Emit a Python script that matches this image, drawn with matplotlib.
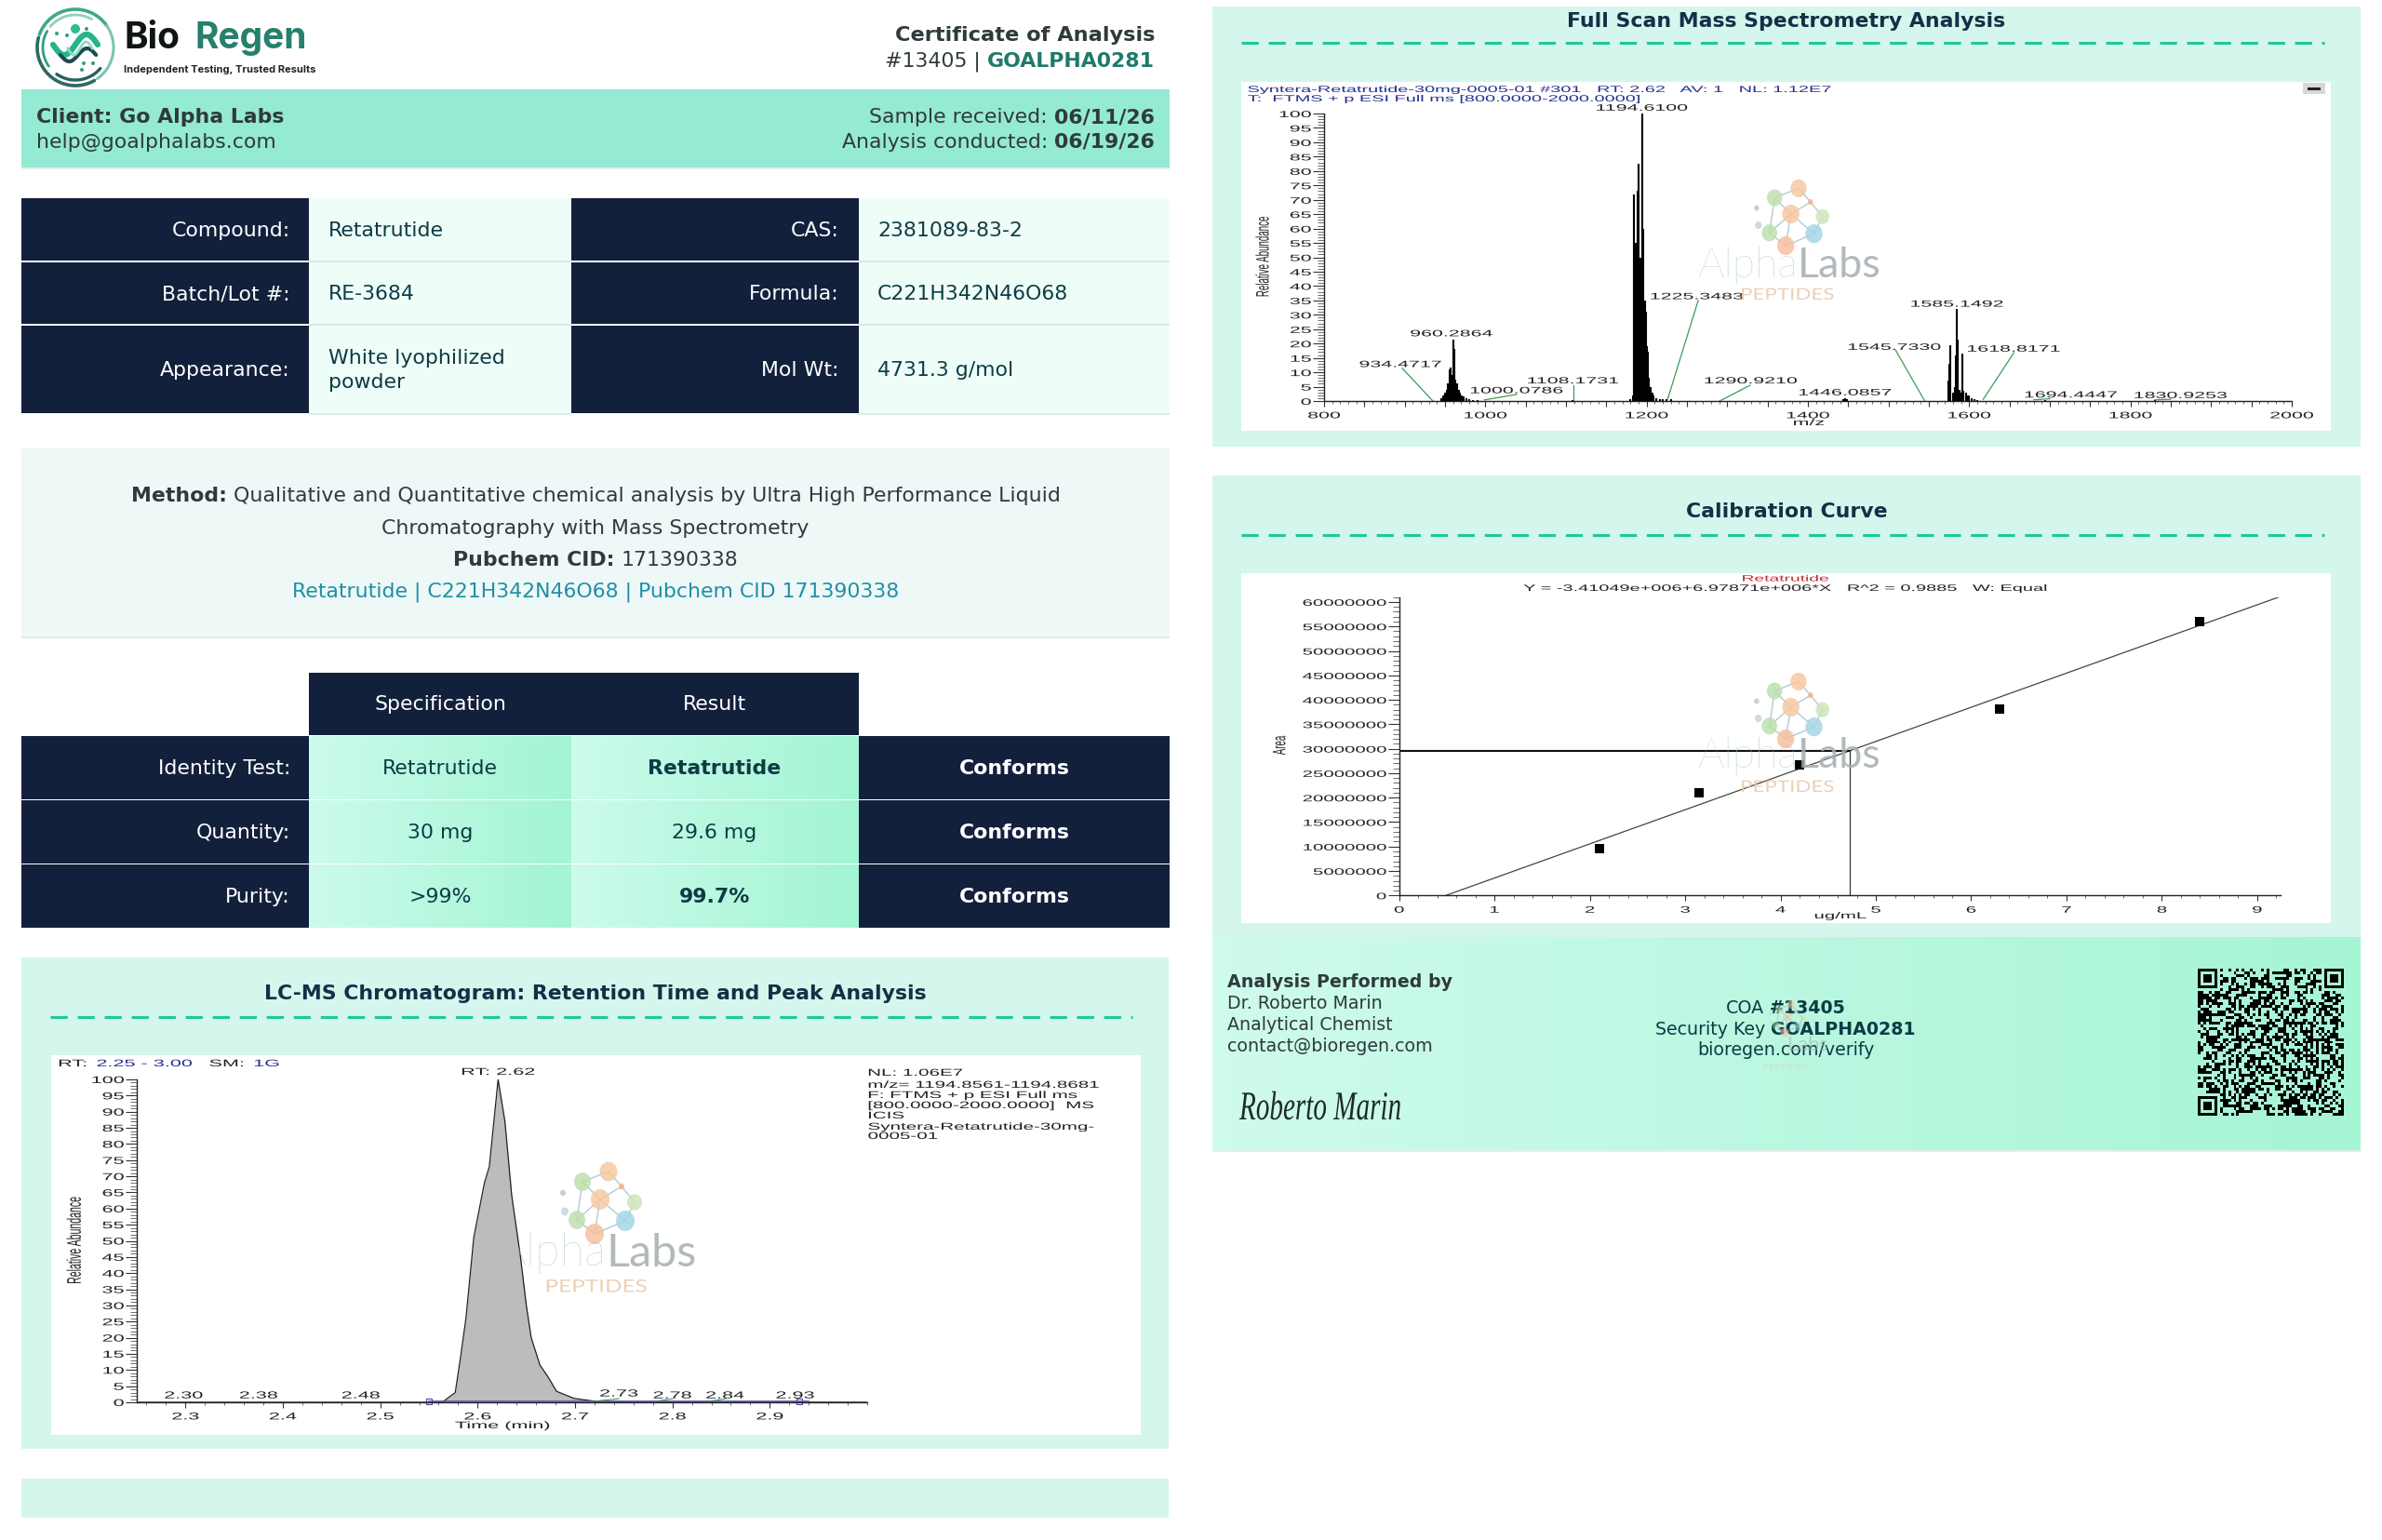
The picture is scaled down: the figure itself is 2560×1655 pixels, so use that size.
import hashlib

import numpy as np
import matplotlib
matplotlib.use('Agg')
import matplotlib.pyplot as plt
import matplotlib.patheffects as pe
from matplotlib.colors import to_rgb
from matplotlib.patches import Ellipse, Rectangle
from matplotlib.ticker import MultipleLocator, NullFormatter
from matplotlib.transforms import Affine2D

W, H = 2560, 1656
plt.rcParams['font.family'] = ['DejaVu Sans']

# chromatogram
lc_t = [2.25, 2.55, 2.564, 2.577, 2.582, 2.588, 2.596, 2.607, 2.612, 2.621, 2.628, 2.635, 2.644,
        2.650, 2.655, 2.664, 2.672, 2.681, 2.699, 2.721, 2.76, 3.0]
lc_y = [0, 0, 0.1, 3, 13, 26, 51, 68, 73, 100, 87, 64, 45, 30, 20, 11.5, 8, 3.4, 1.2, 0.3, 0.1, 0]
lc_labels = ['2.30', '2.38', '2.48', '2.73', '2.78', '2.84', '2.93']
lc_label_t = [2.298, 2.375, 2.48, 2.745, 2.80, 2.854, 2.926]
lc_label_y = [2.1, 2.1, 2.1, 2.7, 2.1, 2.1, 2.1]
lc_squares = [2.55, 2.93]
lc_info = ['NL: 1.06E7', 'm/z= 1194.8561-1194.8681', 'F: FTMS + p ESI Full ms',
           '[800.0000-2000.0000]  MS', 'ICIS', 'Syntera-Retatrutide-30mg-', '0005-01']

# mass spectrum sticks
ms_mz = [945, 948, 950, 952, 954, 956, 957, 958, 960.3, 961, 962, 963, 965, 967, 969, 971, 973, 976, 980, 985, 990,
         1108, 1180, 1183, 1184.6, 1186, 1189, 1190, 1192, 1194.6, 1196, 1198, 1199.5, 1200.5, 1201.5, 1203, 1205,
         1207, 1209, 1212, 1216, 1220, 1225, 1230, 1444, 1446, 1448,
         1574, 1575.5, 1577, 1580, 1582, 1583.5, 1585.15, 1586, 1588, 1590, 1591.5, 1593, 1596, 1598, 1600, 1603,
         1606, 1610, 1694, 1830]
ms_int = [1, 2, 3, 4, 6, 11, 11.5, 9, 21.5, 18, 12, 7.5, 6, 4, 3, 2, 1.5, 1, 0.7, 0.4, 0.3,
          0.3, 0.5, 2, 72, 55, 73, 82.5, 50, 100, 60, 35, 31, 19, 17, 8, 5,
          3, 2, 1, 0.8, 0.6, 0.6, 0.5, 0.6, 1.1, 0.5,
          7, 13, 19.5, 3, 5, 16, 32, 21.5, 4, 3, 16.5, 3.5, 3, 2, 2, 1,
          0.6, 0.4, 0.2, 0.2]
ms_labels = ['1194.6100', '960.2864', '934.4717', '1000.0786', '1108.1731', '1225.3483', '1290.9210',
             '1446.0857', '1545.7330', '1585.1492', '1618.8171', '1694.4447', '1830.9253']
ms_label_mz = [1194, 958, 894.6, 1038.6, 1108.4, 1262, 1329, 1446, 1507, 1584.7, 1655, 1726, 1862]
ms_label_y = [102, 23.5, 12.8, 3.7, 7.1, 36.4, 7.1, 3, 18.8, 33.8, 18.2, 2.2, 2]
ms_lead_from = [(897, 11.4), (1038.6, 2.3), (1109, 5.5), (1264, 35), (1328.4, 5.5), (1508.7, 17.7), (1655.4, 16.8),
                (1700, 0.8), (1850, 0.6)]
ms_lead_to = [(935, 0), (998.8, 0.4), (1109, 0), (1226, 0.6), (1290.5, 0), (1545, 0), (1617.4, 0.6),
              (1680, 0.4), (1830, 0.4)]

# calibration
cal_x = [2.1, 3.15, 4.2, 6.3, 8.4]
cal_y = [9.6e6, 21e6, 26.7e6, 38.2e6, 56e6]
fit_x = [0.49, 9.24]
fit_y = [0, 61.1e6]
sample_x = 4.73
sample_y = 29.6e6

# tables
info_rows = [('Compound:', 'Retatrutide', 'CAS:', '2381089-83-2'),
             ('Batch/Lot #:', 'RE-3684', 'Formula:', 'C221H342N46O68'),
             ('Appearance:', 'White lyophilized\npowder', 'Mol Wt:', '4731.3 g/mol')]
test_names = ['Identity Test:', 'Quantity:', 'Purity:']
test_spec = ['Retatrutide', '30 mg', '>99%']
test_result = ['Retatrutide', '29.6 mg', '99.7%']
test_bold = [True, False, True]

NAVY = '#13203c'
INK = '#2f3a3c'
DEEP = '#0d3b45'
PANEL = '#d5f6ec'
TEAL = '#20c997'
BLUE = '#27308f'


class Stretch(pe.AbstractPathEffect):
    # the chart screenshots are squashed, so glyphs get scaled on the way out
    def __init__(self, sx=1.0, sy=1.0, anchor='center'):
        super().__init__()
        self.sx, self.sy, self.anchor = sx, sy, anchor

    def draw_path(self, renderer, gc, tpath, affine, rgbFace=None):
        ext = tpath.get_extents()
        cx = {'left': ext.x0, 'center': (ext.x0 + ext.x1) / 2, 'right': ext.x1}[self.anchor]
        cy = (ext.y0 + ext.y1) / 2
        st = Affine2D().translate(-cx, -cy).scale(self.sx, self.sy).translate(cx, cy)
        renderer.draw_path(gc, tpath, st + affine, rgbFace)


fig = plt.figure(figsize=(W / 100, H / 100), dpi=100)
base = fig.add_axes([0, 0, 1, 1], zorder=0)
top = fig.add_axes([0, 0, 1, 1], zorder=5)
for a in (base, top):
    a.set_xlim(0, W)
    a.set_ylim(H, 0)
    a.axis('off')
    a.patch.set_alpha(0)
renderer = fig.canvas.get_renderer()


def box(x0, y0, x1, y1, color, z=1, ax=base):
    ax.add_patch(Rectangle((x0, y0), x1 - x0, y1 - y0, fc=color, ec='none', zorder=z))


def gradient(x0, y0, x1, y1, c0='#cffbec', c1='#a6f5d5', z=1):
    c0, c1 = np.array(to_rgb(c0)), np.array(to_rgb(c1))
    ramp = np.linspace(0, 1, 64)[None, :, None]
    base.imshow(c0 + (c1 - c0) * ramp, extent=[x0, x1, y1, y0], aspect='auto', zorder=z)
    base.set_xlim(0, W)
    base.set_ylim(H, 0)


def txt(x, y, s, size=15.8, weight='normal', color=INK, ha='left', ax=base, **kw):
    return ax.text(x, y, s, fontsize=size, fontweight=weight, color=color, ha=ha, va='center',
                   zorder=kw.pop('zorder', 6), **kw)


def runs(x, y, parts, ha='left', size=15.8):
    # parts = (string, weight, colour), drawn one after the other on a line
    gap = size * 100 / 72 * 0.318
    items = [txt(0, y, s, size, w, c) for s, w, c in parts]
    widths = [i.get_window_extent(renderer).width for i in items]
    total = sum(widths) + gap * (len(items) - 1)
    pos = {'left': x, 'right': x - total, 'center': x - total / 2}[ha]
    for item, wd in zip(items, widths):
        item.set_x(pos)
        pos += wd + gap


def chart_axes(x0, x1, y0, y1):
    ax = fig.add_axes([x0 / W, 1 - y1 / H, (x1 - x0) / W, (y1 - y0) / H], zorder=3)
    ax.patch.set_alpha(0)
    ax.spines['top'].set_visible(False)
    ax.spines['right'].set_visible(False)
    for s in ('left', 'bottom'):
        ax.spines[s].set_linewidth(1.0)
        ax.spines[s].set_color('#222222')
    ax.tick_params(which='major', length=9, width=0.8, color='#333333')
    ax.tick_params(which='minor', length=5, width=0.6, color='#555555')
    ax.tick_params(axis='x', which='major', length=4.5, pad=3)
    ax.tick_params(axis='x', which='minor', length=2.5)
    ax.tick_params(axis='y', pad=1)
    return ax


def style_ticks(ax, size, sx):
    for lab in ax.get_xticklabels():
        lab.set(fontfamily='Liberation Sans', fontsize=size, color='#222222')
        lab.set_path_effects([Stretch(sx, 1, 'center')])
    for lab in ax.get_yticklabels():
        lab.set(fontfamily='Liberation Sans', fontsize=size, color='#222222')
        lab.set_path_effects([Stretch(sx, 1, 'right')])


def ctext(ax, x, y, s, size, sx, ha='center', color='#222222', sy=1.0, rotation=0):
    ax.text(x, y, s, fontsize=size, fontfamily='Liberation Sans', color=color, ha=ha, va='center',
            rotation=rotation, clip_on=False, zorder=7, path_effects=[Stretch(sx, sy, ha)])


def watermark(cx, cy, split, text_y, pep_y, k=1.0, alpha=0.85):
    ball_dx = np.array([13, -15, 27, 4, 41, 31, -21, -2, -34, -36])
    ball_dy = np.array([-30, -19, -14, 0, 3, 23, 22, 37, 13, -7])
    ball_r = np.array([9.5, 9, 3, 10, 8, 10, 9, 10, 4, 3])
    ball_c = ['#f7c9a3', '#bfe0ae', '#f2b48c', '#f7c9a3', '#cfe6b9', '#a5d6e6', '#bfe0ae', '#f7c0a0', '#c5d5dd',
              '#b9cbd3']
    links = [(0, 1), (0, 2), (1, 3), (2, 3), (2, 4), (3, 5), (4, 5), (3, 7), (5, 7), (6, 7), (1, 6), (3, 6)]
    for a, b in links:
        top.plot([cx + k * ball_dx[a], cx + k * ball_dx[b]], [cy + k * ball_dy[a], cy + k * ball_dy[b]],
                 color='#8fb0bd', lw=1.0, alpha=alpha * 0.8, zorder=6)
    for dx, dy, r, c in zip(ball_dx, ball_dy, ball_r, ball_c):
        top.add_patch(Ellipse((cx + k * dx, cy + k * dy), 2 * k * r, 2.2 * k * r, fc=c, ec='none', alpha=alpha,
                              zorder=6))
    size = 35 * k
    top.text(split, text_y, 'Alpha', fontsize=size, fontfamily='Lato', color='#9fc0cd', ha='right', va='center',
             alpha=alpha, zorder=6, fontweight='light')
    top.text(split, text_y, 'Labs', fontsize=size, fontfamily='Lato', color='#a5adb1', ha='left', va='center',
             alpha=alpha, zorder=6)
    top.text(cx, pep_y, 'PEPTIDES', fontsize=13.5 * k, fontfamily='Lato', color='#e8c9aa', ha='center', va='center',
             alpha=alpha, zorder=6, path_effects=[Stretch(1.3, 1, 'center')])


# logo
cx, cy = 81, 52
ang = np.linspace(0, 2 * np.pi, 200)
for a0, a1, r, col, lw in [(35, 160, 41, '#3fa88d', 2.6), (165, 300, 41, '#2d6a62', 2.6), (305, 395, 41, '#7fc4b0', 2.2),
                           (60, 140, 35, '#8fd0bd', 2.0), (150, 215, 35, '#2f9e86', 2.0),
                           (235, 320, 35, '#2b5f5f', 2.4)]:
    th = np.radians(np.linspace(a0, a1, 50))
    base.plot(cx + r * np.cos(th), cy - r * np.sin(th), color=col, lw=lw, solid_capstyle='round')
sx_ = np.linspace(-24, 24, 80)
base.plot(cx + sx_, cy - 3 - 11 * np.sin(sx_ / 24 * np.pi), color='#27b48c', lw=4.5, solid_capstyle='round')
base.plot(cx + sx_ * 0.8 + 3, cy + 8 - 7 * np.sin(sx_ / 24 * np.pi), color='#1f4a50', lw=3.0, solid_capstyle='round')
base.plot(cx + sx_ * 0.55 + 5, cy + 1 - 7 * np.sin(sx_ / 24 * np.pi), color='#8fdcc5', lw=2.0)
base.add_patch(Ellipse((81, 32), 10, 10, fc='#2dbd92', ec='none', zorder=3))
for dx, dy in [(-20, -15), (-9, -13), (12, -20), (9, 17), (19, 17), (7, 24)]:
    base.add_patch(Ellipse((cx + dx, cy + dy), 4, 4, fc='#2f9e86', ec='none', zorder=3))
txt(133, 41, 'Bio', 28, 'bold', '#101414', fontfamily='Inter')
txt(209, 41, 'Regen', 28, 'bold', '#25806c', fontfamily='Inter')
txt(133, 75, 'Independent Testing, Trusted Results', 8, 'bold', '#222222', fontfamily='Inter')

# header
txt(1241, 38, 'Certificate of Analysis', 16.2, 'bold', ha='right')
runs(1241, 66, [('#13405 |', 'normal', INK), ('GOALPHA0281', 'bold', '#1f7a6b')], ha='right')
box(23, 97, 1257, 181, '#94ead2')
box(23, 181, 1257, 183, '#e3efec')
txt(39, 126, 'Client: Go Alpha Labs', weight='bold')
txt(39, 153, 'help@goalphalabs.com')
runs(1241, 126, [('Sample received:', 'normal', INK), ('06/11/26', 'bold', INK)], ha='right')
runs(1241, 153, [('Analysis conducted:', 'normal', INK), ('06/19/26', 'bold', INK)], ha='right')

# info table
row_tops = [214, 283, 351]
row_bots = [281, 349, 445]
for (k1, v1, k2, v2), r0, r1 in zip(info_rows, row_tops, row_bots):
    mid = (r0 + r1) / 2
    box(332, r0, 614, r1 + 2, '#eefdf8')
    box(923, r0, 1257, r1 + 2, '#eefdf8')
    box(332, r1, 614, r1 + 2, '#dde9e6')
    box(923, r1, 1257, r1 + 2, '#dde9e6')
    box(23, r0, 332, r1, NAVY)
    box(614, r0, 923, r1, NAVY)
    txt(312, mid, k1, color='white', ha='right')
    txt(902, mid, k2, color='white', ha='right')
    txt(353, mid, v1, color=DEEP, linespacing=1.35)
    txt(943, mid, v2, color=DEEP)

# method box
box(23, 483, 1257, 687, '#edf8f7')
box(23, 685, 1257, 687, '#e0ecea')
runs(640, 533, [('Method:', 'bold', INK),
                ('Qualitative and Quantitative chemical analysis by Ultra High Performance Liquid', 'normal', INK)],
     ha='center')
txt(640, 568, 'Chromatography with Mass Spectrometry', ha='center')
runs(640, 602, [('Pubchem CID:', 'bold', INK), ('171390338', 'normal', INK)], ha='center')
txt(640, 636, 'Retatrutide | C221H342N46O68 | Pubchem CID 171390338', color='#1f8fa5', ha='center')

# results table
box(332, 724, 923, 791, NAVY)
txt(473, 757, 'Specification', color='white', ha='center')
txt(768, 757, 'Result', color='white', ha='center')
test_tops = [792, 861, 930]
test_bots = [860, 929, 998]
for i, (r0, r1) in enumerate(zip(test_tops, test_bots)):
    mid = (r0 + r1) / 2
    box(23, r0, 332, r1, NAVY)
    box(923, r0, 1257, r1, NAVY)
    gradient(332, r0, 614, r1, '#ccfbec', '#a3f5d3')
    gradient(614, r0, 923, r1, '#ccfbec', '#a3f5d3')
    txt(312, mid, test_names[i], color='white', ha='right')
    txt(473, mid, test_spec[i], color=DEEP, ha='center')
    txt(768, mid, test_result[i], color=DEEP, ha='center', weight='bold' if test_bold[i] else 'normal')
    txt(1090, mid, 'Conforms', color='white', ha='center', weight='bold')

# panels
box(23, 1030, 1256, 1558, PANEL)
box(23, 1590, 1256, 1632, PANEL)
box(1303, 8, 2537, 481, PANEL)
box(1303, 512, 2537, 1008, PANEL)
box(55, 1135, 1226, 1543, 'white', 2)
box(1334, 89, 2505, 464, 'white', 2)
box(1334, 617, 2505, 993, 'white', 2)
txt(640, 1068, 'LC-MS Chromatogram: Retention Time and Peak Analysis', 15.8, 'bold', '#123047', ha='center')
txt(1920, 23, 'Full Scan Mass Spectrometry Analysis', 15.8, 'bold', '#123047', ha='center')
txt(1920, 550, 'Calibration Curve', 15.8, 'bold', '#123047', ha='center')
for x0, x1, y in [(54, 1217, 1094), (1334, 2498, 47), (1334, 2498, 576)]:
    base.plot([x0, x1], [y, y], color=TEAL, lw=2.2, dashes=(6, 3.5))

# LC-MS chart
lc = chart_axes(147, 932, 1161, 1508)
lc.set_xlim(2.25, 3.0)
lc.set_ylim(0, 100)
lc.fill_between(lc_t, lc_y, color='#bcbcbc', lw=0)
lc.plot(lc_t, lc_y, color='#222222', lw=0.9)
lc.plot([2.55, 2.94], [0.15, 0.15], color='#5a5ab4', lw=1.2)
lc.plot(lc_squares, [0.4, 0.4], 's', mfc='none', mec='#4a4aa8', ms=4.5, mew=0.8, clip_on=False)
lc.set_xticks([2.3, 2.4, 2.5, 2.6, 2.7, 2.8, 2.9])
lc.set_xticklabels(['2.3', '2.4', '2.5', '2.6', '2.7', '2.8', '2.9'])
lc.xaxis.set_minor_locator(MultipleLocator(0.02))
lc.set_yticks(range(0, 101, 5))
lc.yaxis.set_minor_locator(MultipleLocator(1))
style_ticks(lc, 7.6, 2.05)
for s, t, y in zip(lc_labels, lc_label_t, lc_label_y):
    ctext(lc, t, y, s, 7.6, 2.05)
ctext(lc, 2.621, 102.3, 'RT: 2.62', 7.6, 2.05)
for t0, t1 in [(2.722, 2.745), (2.785, 2.80), (2.84, 2.855)]:
    lc.plot([t0, t1], [0.4, 1.1], color='#3d9b55', lw=0.8)
ctext(top, 63, 1144, 'RT:', 7.6, 2.05, 'left')
ctext(top, 104, 1144, '2.25 - 3.00', 7.6, 2.05, 'left', BLUE)
ctext(top, 225, 1144, 'SM:', 7.6, 2.05, 'left')
ctext(top, 273, 1144, '1G', 7.6, 2.05, 'left', BLUE)
for s, y in zip(lc_info, [1154, 1167, 1178, 1189, 1200, 1212, 1222]):
    ctext(top, 933, y, s, 7.6, 1.95, 'left')
ctext(top, 80, 1334, 'Relative Abundance', 7.6, 1.0, 'center', sy=2.0, rotation=90)
ctext(top, 540, 1533, 'Time (min)', 7.6, 2.05)
watermark(641, 1290, 652, 1347, 1384)

# mass spectrum
ms = chart_axes(1423, 2463, 123, 432)
ms.set_xlim(800, 2000)
ms.set_ylim(0, 100)
ms.vlines(ms_mz, 0, ms_int, color='black', lw=1.5)
ms.plot([800, 2000], [0.15, 0.15], color='black', lw=0.8)
for p0, p1 in zip(ms_lead_from, ms_lead_to):
    ms.plot([p0[0], p1[0]], [p0[1], p1[1]], color='#3d9b55', lw=0.9, clip_on=False)
ms_ticks = list(range(800, 2001, 50))
ms.set_xticks(ms_ticks)
ms.set_xticklabels([str(v) if v % 200 == 0 else '' for v in ms_ticks])
ms.xaxis.set_minor_locator(MultipleLocator(10))
ms.set_yticks(range(0, 101, 5))
ms.yaxis.set_minor_locator(MultipleLocator(1))
style_ticks(ms, 7.0, 2.2)
for s, m, y in zip(ms_labels, ms_label_mz, ms_label_y):
    ctext(ms, m, y, s, 7.0, 2.2)
ctext(top, 1341, 97, 'Syntera-Retatrutide-30mg-0005-01 #301   RT: 2.62   AV: 1   NL: 1.12E7', 7.0, 2.05, 'left', BLUE)
ctext(top, 1341, 107, 'T:  FTMS + p ESI Full ms [800.0000-2000.0000]', 7.0, 2.05, 'left', BLUE)
box(2475, 90, 2499, 102, '#d8d8d8', 6, top)
box(2480, 95, 2494, 98, '#222222', 7, top)
ctext(top, 1357, 277, 'Relative Abundance', 7.0, 1.0, 'center', sy=2.0, rotation=90)
ctext(top, 1944, 455, 'm/z', 7.0, 2.2)
watermark(1921, 231, 1932, 285, 318, 0.92)

# calibration curve
cal = chart_axes(1503.7, 2451, 642.7, 963.3)
cal.set_xlim(0, 9.245)
cal.set_ylim(0, 61e6)
cal.plot(fit_x, fit_y, color='#444444', lw=0.9)
cal.plot([0, sample_x], [sample_y, sample_y], color='#111111', lw=1.5)
cal.plot([sample_x, sample_x], [0, sample_y], color='#333333', lw=0.9)
cal.plot(cal_x, cal_y, 's', color='black', ms=6.5, mew=0, clip_on=False, zorder=4)
cal.plot(cal_x, cal_y, 's', color='black', ms=0)
cal.set_xticks(range(0, 10))
cal.xaxis.set_minor_locator(MultipleLocator(0.2))
cal.set_yticks(range(0, 60000001, 5000000))
cal.set_yticklabels([str(v) for v in range(0, 60000001, 5000000)])
cal.yaxis.set_minor_locator(MultipleLocator(1000000))
style_ticks(cal, 7.0, 2.1)
ctext(top, 1919, 623, 'Retatrutide', 6.6, 2.1, color='#c8282d')
ctext(top, 1919, 633, 'Y = -3.41049e+006+6.97871e+006*X   R^2 = 0.9885   W: Equal', 7.0, 2.05)
ctext(top, 1375, 802, 'Area', 7.0, 1.0, 'center', sy=2.0, rotation=90)
ctext(top, 1978, 985, 'ug/mL', 7.0, 2.1)
watermark(1921, 761, 1932, 813, 847, 0.92)

# footer
gradient(1303, 1008, 2537, 1237, '#cffbec', '#a6f5d5', z=1)
box(1303, 1237, 2537, 1239, '#e3efec')
txt(1319, 1056, 'Analysis Performed by', 13.7, 'bold')
txt(1319, 1079, 'Dr. Roberto Marin', 13.7)
txt(1319, 1102, 'Analytical Chemist', 13.7)
txt(1319, 1125, 'contact@bioregen.com', 13.7)
base.text(1332, 1192, 'Roberto Marin', fontsize=21, fontfamily='Liberation Serif', style='italic', color='#1c2b2b',
          va='center', fontweight='light', path_effects=[Stretch(1.0, 1.5, 'left')], zorder=6)
watermark(1919, 1094, 1921, 1123, 1148, 0.45, alpha=0.5)
runs(1919, 1084, [('COA', 'normal', DEEP), ('#13405', 'bold', DEEP)], ha='center', size=13.7)
runs(1919, 1107, [('Security Key', 'normal', DEEP), ('GOALPHA0281', 'bold', DEEP)], ha='center', size=13.7)
txt(1919, 1129, 'bioregen.com/verify', 13.7, color=DEEP, ha='center', zorder=7)

# qr texture: hash of the footer text, not a readable code
n = 53
bits = ''.join(bin(b)[2:].zfill(8) for i in range(n * n // 256 + 1)
               for b in hashlib.sha256(f'bioregen.com/verify/{i}'.encode()).digest())
qr = np.array([int(c) for c in bits[:n * n]], dtype=float).reshape(n, n)
for fx, fy in [(0, 0), (n - 7, 0), (0, n - 7)]:
    qr[max(fy - 1, 0):fy + 8, max(fx - 1, 0):fx + 8] = 0
    qr[fy:fy + 7, fx:fx + 7] = 1
    qr[fy + 1:fy + 6, fx + 1:fx + 6] = 0
    qr[fy + 2:fy + 5, fx + 2:fx + 5] = 1
rgba = np.zeros((n, n, 4))
rgba[..., 3] = qr
base.imshow(rgba, extent=[2362, 2519, 1200, 1042], aspect='auto', interpolation='nearest', zorder=3)
base.set_xlim(0, W)
base.set_ylim(H, 0)

fig.savefig('out.png', dpi=100, facecolor='white')
